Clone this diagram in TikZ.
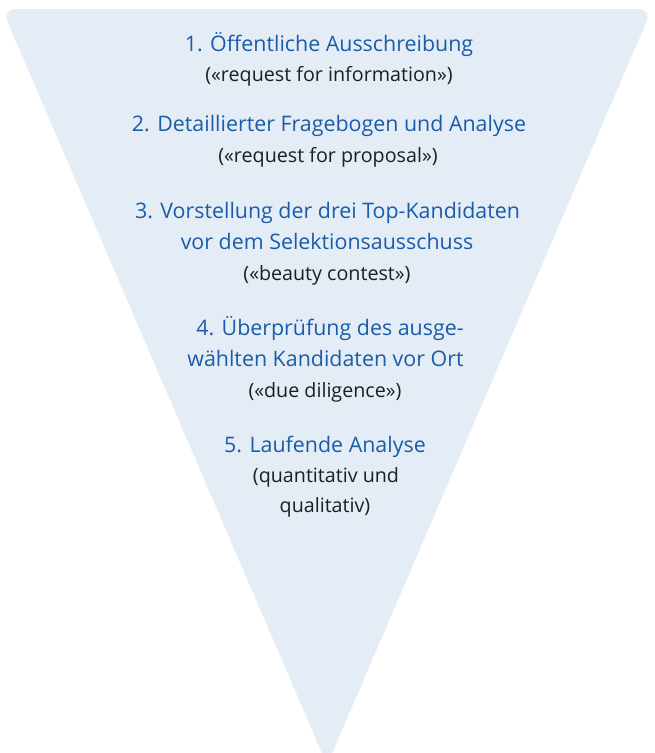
\documentclass[tikz,border=0pt]{standalone}
\usepackage{fontspec}
\setmainfont{Open Sans}
\usepackage{tikz}
\definecolor{trifill}{HTML}{E4EDF6}
\definecolor{headblue}{HTML}{1A5CA8}
\definecolor{subblack}{HTML}{1E1E1E}
\tikzset{
  head/.style={anchor=base, inner sep=0pt, text=headblue, font=\fontsize{21.4}{25}\selectfont},
  sub/.style={anchor=base, inner sep=0pt, text=subblack, font=\fontsize{19.7}{23}\selectfont}
}

\begin{document}
\begin{tikzpicture}[x=1pt,y=-1pt]
\useasboundingbox (0,0) rectangle (654,753);
\clip (0,0) rectangle (654,753);
% funnel
\fill[trifill] (327,765) [rounded corners=14pt] -- (2,9) -- (652,9) -- cycle;
% stage 1
\node[head] (h1) at (329,51) {1. Öffentliche Ausschreibung};
\node[sub] (s1) at (329,81) {(«request for information»)};
% stage 2
\node[head] (h2) at (329,131) {2. Detaillierter Fragebogen und Analyse};
\node[sub] (s2) at (328,162) {(«request for proposal»)};
% stage 3
\node[head] (h3a) at (327.5,218) {3. Vorstellung der drei Top-Kandidaten};
\node[head] (h3b) at (327,249) {vor dem Selektionsausschuss};
\node[sub] (s3) at (327,280) {(«beauty contest»)};
% stage 4
\node[head] (h4a) at (330,335) {4. Überprüfung des ausge-};
\node[head] (h4b) at (325.5,366) {wählten Kandidaten vor Ort};
\node[sub] (s4) at (325,397) {(«due diligence»)};
% stage 5
\node[head] (h5) at (325,452) {5. Laufende Analyse};
\node[sub] (s5a) at (326,482) {(quantitativ und};
\node[sub] (s5b) at (325,512) {qualitativ)};
\end{tikzpicture}
\end{document}
